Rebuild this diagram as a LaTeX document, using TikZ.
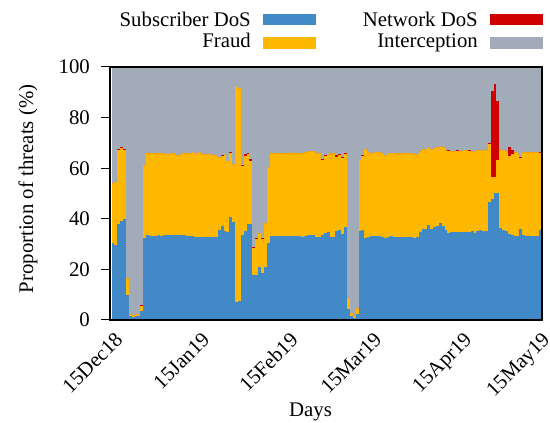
\documentclass[tikz,border=0pt]{standalone}
\usepackage{fontspec}
\setmainfont{Liberation Serif}
\definecolor{sdos}{RGB}{65,137,199}
\definecolor{fraud}{RGB}{255,184,0}
\definecolor{ndos}{RGB}{208,0,0}
\definecolor{intc}{RGB}{162,172,184}
\begin{document}
\begin{tikzpicture}[x=1pt,y=1pt,
  lbl/.style={font=\fontsize{20.8}{24}\selectfont, inner sep=0pt},
  swatch/.style={minimum width=53pt, minimum height=11.5pt, inner sep=0pt}]
\useasboundingbox (0,0) rectangle (550,423);
\begin{scope}[yshift=103pt, y=2.53pt]
  \fill[intc] (112,0) rectangle (541.5,100);
  \foreach \a/\b/\B/\Y/\R in {
    112/114/30.4/54.0/54.0, 114/117/29.6/54.5/54.5, 117/120/38/67/67.4,
    120/123/39/67.9/68.5, 123/126/40/67.2/67.7, 126/129/9.9/16.6/16.6,
    129/132/1.6/2.4/2.4, 132/135/1.2/2.0/2.0, 135/140/1.7/2.4/2.4,
    140/143/3.6/5.5/6.0, 143/146/32.4/61.1/61.1, 146/149/33.6/66/66,
    149/158.3/33.2/66/66, 158.3/160/33.6/66/66, 160/163/33.2/66/66,
    163/166/33.6/66/66, 166/169/33.6/65.6/65.6, 169/175/33.6/66/66,
    175/181/33.6/65.3/65.3, 181/186/33.6/66/66, 186/191.7/33.2/66/66,
    191.7/194/33.2/66.4/66.4, 194/199/32.8/66/66, 199/201/32.8/66.4/66.4,
    201/212/32.8/65.6/65.6, 212/218.3/32.8/65.2/65.2,
    218.3/221/35.6/64.4/64.4, 221/224/37.2/64.7/65.2, 224/226/35.2/65.6/65.6,
    226/229/34.8/62.8/62.8, 229/232/40.7/65.9/66.4, 232/235/38.7/61.8/61.8,
    235/238/7.1/92.5/92.5, 238/241/7.5/91.7/91.7, 241/244/33.6/60.9/61.4,
    244/247/35.2/64.8/65.6, 247/249/37.9/65.6/66.1, 249/252/37.9/62.8/63.6,
    252/255/17.8/28.3/28.8, 255/258/17.8/32/32.5, 258/261/21/34.4/34.4,
    261/264/18.6/32/32.5, 264/267/21/38.3/38.3, 267/270/30.4/60.5/60.5,
    270/290/33.2/66/66, 290/292/33.2/66.4/66.4, 292/301/33.2/66/66,
    301/304/32.8/66/66, 304/307/33.2/66.4/66.4, 307/315/33.6/66.8/66.8,
    315/321/32.8/66/66, 321/324/33.6/63.2/63.7, 324/327/34.4/64.8/65.3,
    327/330/34.8/65.6/65.6, 330/335/32.8/66/66, 335/338/35.2/64.4/65.2,
    338/341/35.6/65.2/65.7, 341/344/34/64/64.5, 344/347/36.8/65.6/66.1,
    347/350/4.3/8.7/8.7, 350/353/1.6/2.8/2.8, 353/356/0.8/1.6/1.6,
    356/359/2.4/4.7/4.7, 359/361/35.2/63.2/63.2, 361/364/35.6/64.8/65.3,
    364/367/32.4/67.6/67.6, 367/370/32.8/66.4/66.4, 370/373/33.2/66/66,
    373/381/33.2/66.4/66.4, 381/384/32.8/66/66, 384/387/32.4/65.2/65.2,
    387/390/32.8/66/66, 390/393/33.2/66/66, 393/413/32.8/66/66,
    413/416/32.4/65.6/65.6, 416/419/32.8/65.6/65.6, 419/422/34.8/66.8/66.8,
    422/427/36/67.6/67.6, 427/430/37.5/68.4/68.4, 430/433/36/67.6/67.6,
    433/436/36.8/68/68, 436/439/37.2/68.4/68.4, 439/442/38.3/68.8/68.8,
    442/445/37.2/68.4/68.4, 445/447/35.6/67.2/67.2, 447/450/34.4/66.8/67.3,
    450/456/34.8/66.8/66.8, 456/459/34.8/66.8/67.3, 459/462/34.8/66.8/66.8,
    462/468/34.8/67.2/67.2, 468/471/34.8/66.8/67.3, 471/474/35.2/66.8/66.8,
    474/476/34.4/66.4/66.4, 476/479/35.2/67.2/67.2, 479/482/35.6/67.2/67.2,
    482/488/35.2/67.2/67.2, 488/491/46.6/69.6/70.1, 491/494/47.8/56.5/90.5,
    494/496/50.2/56.5/93.3, 496/499/50.2/63.2/86.6, 499/502/36.4/67.6/67.6,
    502/505/35.6/67.2/67.2, 505/508/35.2/66.8/66.8, 508/511/34/64.8/68.4,
    511/514/33.6/65.6/67.2, 514/517/33.2/66.4/66.4, 517/519/33.2/65.6/65.6,
    519/522/36/64/64.5, 522/525/33.6/66.4/66.4, 525/539/33.2/66.4/66.4,
    539/541.5/35.6/66/66.5}{
    \fill[sdos] (\a,0) rectangle (\b,\B);
    \fill[fraud] (\a,\B) rectangle (\b,\Y);
    \fill[ndos] (\a,\Y) rectangle (\b,\R);
  }
  \draw[line width=1.2pt] (110,0) rectangle (542,100);
  \foreach \v in {0,20,40,60,80,100}{
    \coordinate (t\v) at (110,\v);
    \coordinate (s\v) at (101,\v);
    \draw[line width=1pt] (s\v) -- (t\v);
    \node[lbl, anchor=east] (yl\v) at (90,\v) {\v};
  }
\end{scope}
% x labels
\foreach \px/\lab in {114/15Dec18, 201/15Jan19, 289/15Feb19, 373/15Mar19, 463/15Apr19, 541/15May19}{
  \begin{scope}[shift={(\px,92)}, rotate=45]
    \node[lbl, anchor=north east, transform shape] (xl\lab) at (0,0) {\lab};
  \end{scope}
}
\node[lbl, anchor=base] (xlab) at (310.5,6) {Days};
\node[lbl, anchor=base, rotate=90] (ylab) at (33,234) {Proportion of threats (\%)};
% legend
\node[lbl, anchor=base east] (l1) at (251,396) {Subscriber DoS};
\node[lbl, anchor=base east] (l2) at (251,375) {Fraud};
\node[lbl, anchor=base east] (l3) at (478,396) {Network DoS};
\node[lbl, anchor=base east] (l4) at (478,375) {Interception};
\node[swatch, fill=sdos, anchor=south west] (k1) at (263,397.3) {};
\node[swatch, fill=fraud, anchor=south west] (k2) at (263,374) {};
\node[swatch, fill=ndos, anchor=south west] (k3) at (490,397.3) {};
\node[swatch, fill=intc, anchor=south west] (k4) at (490,374) {};
\end{tikzpicture}
\end{document}
